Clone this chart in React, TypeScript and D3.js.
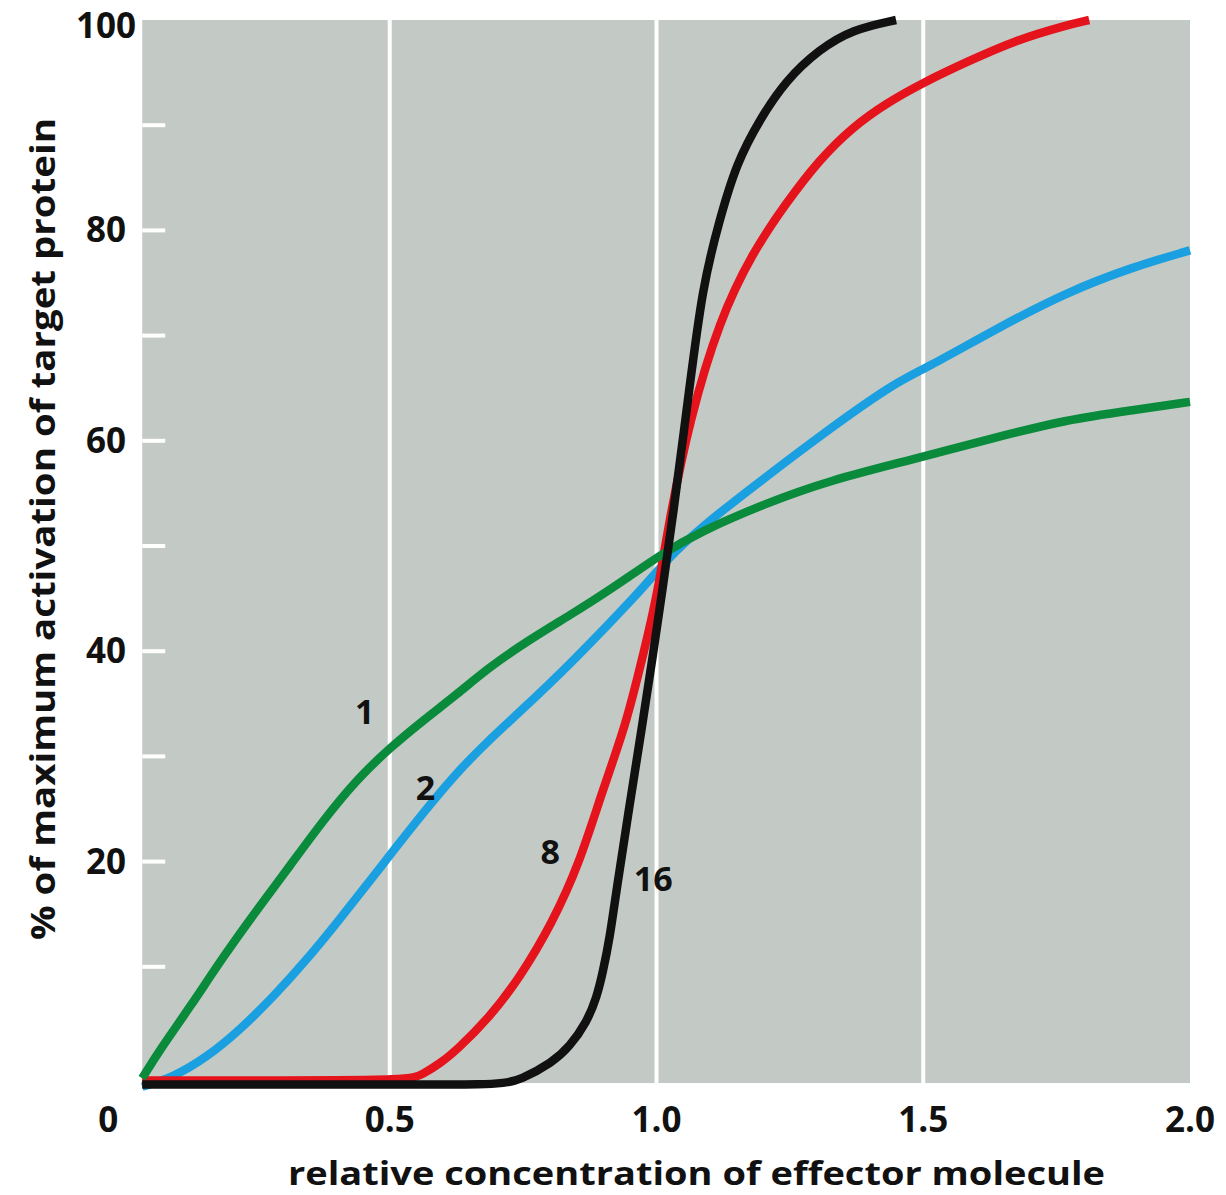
import React, { useEffect } from "react";
import * as d3 from "d3";

// ---- data ----
const xTickValues = [0.5, 1.0, 1.5, 2.0];
const xTickLabels = ["0.5", "1.0", "1.5", "2.0"];
const yTickValues = [20, 40, 60, 80, 100];
const yTickLabels = ["20", "40", "60", "80", "100"];
const yMinorTicks = [10, 20, 30, 40, 50, 60, 70, 80, 90];
const xGridValues = [0.5, 1.0, 1.5];

const greenX = [0.036, 0.069, 0.126, 0.187, 0.251, 0.313, 0.375, 0.438, 0.5, 0.562, 0.626, 0.687, 0.762, 0.837, 0.912, 1.011, 1.08, 1.206, 1.33, 1.455, 1.642, 1.768, 1.891, 2.0];
const greenY = [-0.6, 2.1, 6.2, 10.9, 15.4, 19.6, 23.9, 27.8, 30.8, 33.4, 35.9, 38.5, 41.1, 43.4, 45.8, 49.3, 51.3, 54.1, 56.3, 57.9, 60.4, 62.0, 62.9, 63.7];

const blueX = [0.036, 0.094, 0.157, 0.219, 0.281, 0.345, 0.406, 0.468, 0.5, 0.562, 0.626, 0.687, 0.743, 0.837, 0.968, 1.019, 1.081, 1.193, 1.315, 1.446, 1.502, 1.642, 1.768, 1.891, 2.0];
const blueY = [-1.4, -0.5, 1.4, 4.0, 7.1, 10.7, 14.5, 18.5, 20.6, 24.6, 28.5, 31.6, 34.2, 38.7, 45.6, 48.7, 51.7, 56.1, 60.8, 65.5, 66.8, 70.8, 74.1, 76.5, 78.1];

const redX = [0.036, 0.3, 0.538, 0.562, 0.594, 0.626, 0.687, 0.743, 0.805, 0.856, 0.899, 0.944, 0.974, 1.0, 1.024, 1.062, 1.118, 1.18, 1.243, 1.305, 1.367, 1.431, 1.502, 1.581, 1.674, 1.768, 1.811];
const redY = [-0.8, -0.8, -0.8, -0.2, 0.8, 2.1, 5.2, 8.9, 14.2, 19.9, 26.8, 33.2, 39.5, 44.9, 52.5, 62.0, 71.5, 77.9, 82.6, 86.7, 89.8, 92.1, 94.1, 96.0, 98.1, 99.5, 100.0];

const blackX = [0.036, 0.3, 0.6, 0.669, 0.715, 0.743, 0.805, 0.837, 0.869, 0.888, 0.899, 0.912, 0.925, 0.949, 0.974, 0.993, 1.011, 1.03, 1.062, 1.086, 1.118, 1.15, 1.193, 1.243, 1.305, 1.367, 1.449];
const blackY = [-1.2, -1.2, -1.2, -1.2, -1.05, -0.8, 0.9, 2.4, 4.7, 7.1, 9.4, 12.6, 17.3, 25.2, 33.2, 39.5, 45.8, 52.5, 65.1, 74.6, 81.0, 86.4, 90.5, 94.3, 97.2, 99.1, 100.0];

const curveLabels = ["1", "2", "8", "16"];
const curveLabelX = [0.453, 0.567, 0.801, 0.994];
const curveLabelY = [34.2, 27.0, 20.9, 18.3];

const plotXStart = 0.036;
const plotYStart = -1.05;

const xTitle = "relative concentration of effector molecule";
const yTitle = "% of maximum activation of target protein";

const W = 1226;
const H = 1195;
const FONT = "'Open Sans', 'Noto Sans', sans-serif";

export default function App() {
  useEffect(() => {
    document.body.style.margin = "0";
    document.body.style.background = "#ffffff";
  }, []);

  const x = d3.scaleLinear().domain([0, 2]).range([123, 1190]);
  const y = d3.scaleLinear().domain([0, 100]).range([1072, 20]);

  const line = d3
    .line<[number, number]>()
    .x((d) => x(d[0]))
    .y((d) => y(d[1]))
    .curve(d3.curveBasis);

  const zip = (xs: number[], ys: number[]) => xs.map((v, i) => [v, ys[i]] as [number, number]);

  const series = [
    { name: "2", xs: blueX, ys: blueY, color: "#1a9fe0" },
    { name: "8", xs: redX, ys: redY, color: "#e5131b" },
    { name: "1", xs: greenX, ys: greenY, color: "#0a8a3b" },
    { name: "16", xs: blackX, ys: blackY, color: "#111111" },
  ];

  const left = x(plotXStart);
  const right = x(2);
  const top = y(100);
  const bottom = y(plotYStart);

  const textProps = {
    fontFamily: FONT,
    fontWeight: 700,
    fill: "#111",
  } as const;

  return (
    <svg width={W} height={H} style={{ position: "absolute", left: 0, top: 0, display: "block" }}>
      <rect x={left} y={top} width={right - left} height={bottom - top} fill="#c3cac5" />
      {xGridValues.map((v) => (
        <line key={"g" + v} x1={x(v)} x2={x(v)} y1={top} y2={bottom} stroke="#ffffff" strokeWidth={4} />
      ))}
      {yMinorTicks.map((v) => (
        <line key={"t" + v} x1={left} x2={left + 23} y1={y(v)} y2={y(v)} stroke="#ffffff" strokeWidth={4} />
      ))}
      {series.map((s) => (
        <path
          key={s.name}
          d={line(zip(s.xs, s.ys)) || ""}
          fill="none"
          stroke={s.color}
          strokeWidth={8.5}
          strokeLinecap="butt"
          strokeLinejoin="round"
        />
      ))}
      {curveLabels.map((t, i) => (
        <text
          key={"l" + t}
          x={x(curveLabelX[i])}
          y={y(curveLabelY[i]) + 12}
          textAnchor="middle"
          fontSize={34}
          {...textProps}
        >
          {t}
        </text>
      ))}
      {yTickValues.map((v, i) => (
        <text
          key={"yl" + v}
          x={106}
          y={Math.max(y(v) + 12, 38)}
          textAnchor="middle"
          fontSize={35}
          {...textProps}
        >
          {yTickLabels[i]}
        </text>
      ))}
      {xTickValues.map((v, i) => (
        <text
          key={"xl" + v}
          x={x(v)}
          y={1132}
          textAnchor="middle"
          fontSize={35}
          {...textProps}
        >
          {xTickLabels[i]}
        </text>
      ))}
      <text x={left - 34} y={1132} textAnchor="middle" fontSize={35} {...textProps}>
        0
      </text>
      <text
        x={288}
        y={1185}
        textLength={817}
        lengthAdjust="spacingAndGlyphs"
        fontSize={33}
        {...textProps}
      >
        {xTitle}
      </text>
      <text
        transform={`translate(55, 940) rotate(-90)`}
        textLength={822}
        lengthAdjust="spacingAndGlyphs"
        fontSize={34}
        {...textProps}
      >
        {yTitle}
      </text>
    </svg>
  );
}
